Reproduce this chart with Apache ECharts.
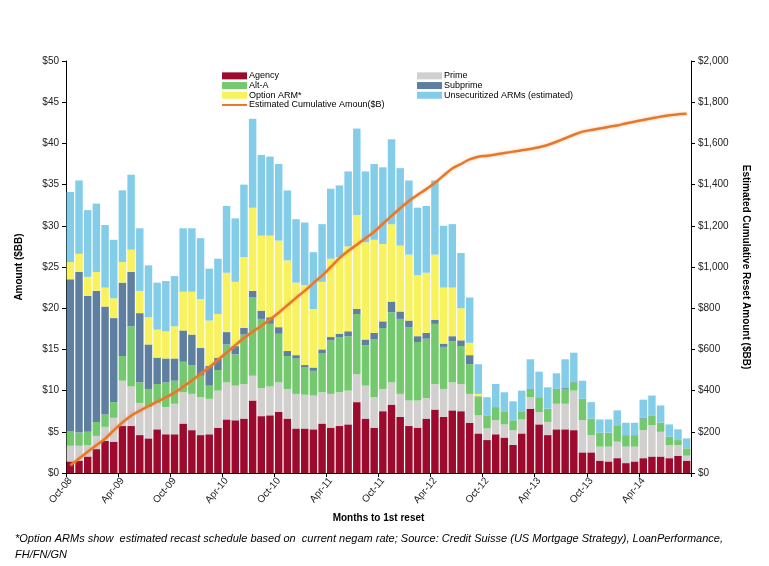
<!DOCTYPE html>
<html>
<head>
<meta charset="utf-8">
<script src="https://cdn.jsdelivr.net/npm/echarts@6/dist/echarts.min.js"></script>
<style>
html,body{margin:0;padding:0;background:#fff;}
#chart{width:769px;height:566px;}
</style>
</head>
<body>
<div id="chart"></div>
<script>
var categories = ["Oct-08","Nov-08","Dec-08",
"Jan-09","Feb-09","Mar-09","Apr-09","May-09","Jun-09","Jul-09","Aug-09","Sep-09","Oct-09","Nov-09","Dec-09",
"Jan-10","Feb-10","Mar-10","Apr-10","May-10","Jun-10","Jul-10","Aug-10","Sep-10","Oct-10","Nov-10","Dec-10",
"Jan-11","Feb-11","Mar-11","Apr-11","May-11","Jun-11","Jul-11","Aug-11","Sep-11","Oct-11","Nov-11","Dec-11",
"Jan-12","Feb-12","Mar-12","Apr-12","May-12","Jun-12","Jul-12","Aug-12","Sep-12","Oct-12","Nov-12","Dec-12",
"Jan-13","Feb-13","Mar-13","Apr-13","May-13","Jun-13","Jul-13","Aug-13","Sep-13","Oct-13","Nov-13","Dec-13",
"Jan-14","Feb-14","Mar-14","Apr-14","May-14","Jun-14","Jul-14","Aug-14","Sep-14"];

var agency = [1.4,1.5,2.0,2.9,3.9,3.8,5.7,5.7,4.6,4.2,5.3,4.7,4.7,6.0,5.2,4.6,4.7,5.5,6.5,6.4,6.6,8.8,6.9,7.0,7.4,6.6,5.4,5.4,5.3,6.0,5.5,5.7,5.9,8.6,6.6,5.5,7.5,8.3,6.8,5.7,5.5,6.6,7.7,6.8,7.6,7.5,6.1,4.8,4.0,4.7,4.3,3.4,4.8,7.8,5.9,4.6,5.3,5.3,5.2,2.5,2.5,1.5,1.4,1.8,1.2,1.4,1.8,2.0,2.0,1.8,2.1,1.5];
var prime = [1.9,1.8,1.4,1.6,1.7,2.9,5.5,4.8,3.9,3.8,3.2,3.3,3.7,3.8,4.4,4.6,4.3,4.5,4.5,4.2,4.2,3.0,3.4,3.5,3.6,3.6,4.2,4.1,4.1,3.8,4.1,4.1,4.1,3.4,4.0,3.7,2.7,2.7,2.8,3.1,3.3,2.5,3.1,3.4,3.4,3.3,3.5,2.2,1.4,1.7,1.6,1.8,1.7,1.4,1.5,1.6,3.1,3.1,4.8,3.9,2.1,1.7,1.8,2.0,2.0,1.8,3.4,3.8,3.0,1.6,1.3,0.6];
var altA = [1.8,1.6,1.6,1.7,1.5,1.9,3.0,7.3,2.5,2.2,2.3,3.0,2.8,3.7,3.5,2.6,1.6,2.5,4.6,3.8,6.0,9.5,8.4,7.6,5.9,4.0,4.3,3.3,3.0,4.7,6.5,6.7,6.6,7.3,4.9,7.0,7.4,8.5,9.1,8.9,7.1,7.2,7.3,5.1,5.0,4.6,3.6,2.2,1.6,1.6,1.5,1.2,0.9,1.0,1.8,1.6,1.8,1.8,1.0,2.6,2.0,1.6,1.7,2.0,1.4,1.4,1.4,1.2,1.1,1.0,0.6,0.9];
var subprime = [18.4,19.5,16.5,15.9,13.1,10.2,8.9,6.6,8.4,5.4,3.2,2.9,2.7,3.8,3.7,3.4,2.4,1.5,1.5,1.0,0.8,0.8,1.0,0.8,0.8,0.6,0.4,0.3,0.4,0.5,0.4,0.4,0.6,0.6,0.7,0.8,0.8,1.3,0.9,0.8,0.7,0.7,0.5,0.4,0.6,0.7,1.1,0.1,0,0,0,0,0,0,0,0,0,0.1,0.1,0,0,0.1,0,0,0,0,0.1,0,0,0,0,0];
var optionArm = [2.1,2.2,2.3,2.3,2.3,2.4,2.5,2.7,2.7,3.3,3.4,3.3,3.9,4.7,5.2,5.9,5.5,5.3,7.2,7.8,8.6,10.1,9.1,9.9,10.5,11.0,8.8,9.7,7.1,8.2,9.5,9.3,10.3,11.4,11.8,11.3,9.4,9.4,8.0,8.0,7.4,7.3,7.9,6.8,5.9,3.9,1.5,0.3,0,0,0,0,0,0,0,0,0,0,0,0,0,0,0,0,0,0,0,0,0,0,0,0];
var unsecuritized = [8.5,8.9,8.1,8.3,7.6,7.1,8.7,9.1,7.6,6.3,5.7,6.1,6.1,7.7,7.7,7.4,6.3,6.7,8.1,7.7,8.8,10.8,9.8,9.6,9.3,8.5,7.7,7.6,6.9,7.0,8.5,8.7,9.1,10.5,8.6,9.2,9.3,10.3,9.4,9.0,8.2,8.1,9.0,7.5,7.7,6.7,5.5,3.6,2.2,2.8,2.4,2.3,2.6,3.6,3.1,2.6,1.9,3.5,3.5,2.2,2.0,1.6,1.6,1.8,1.5,1.5,2.2,2.4,2.1,1.5,1.3,1.2];
var cumulative = [37,70,103,135,166,207,245,278,302,324,346,367,390,419,449,480,513,549,584,620,655,686,714,745,778,814,850,884,922,958,1000,1043,1078,1108,1140,1171,1210,1248,1285,1320,1350,1378,1409,1444,1478,1500,1522,1535,1540,1546,1553,1560,1567,1573,1581,1592,1608,1625,1642,1657,1665,1672,1680,1687,1697,1705,1714,1722,1730,1737,1741,1744];

var leftTicks = [0,5,10,15,20,25,30,35,40,45,50];
var rightTicks = [0,200,400,600,800,1000,1200,1400,1600,1800,2000];

var FONT = "'Liberation Sans', Arial, sans-serif";
var chart = echarts.init(document.getElementById('chart'), null, {renderer:'canvas'});

function barSeries(name, data, color){
  return {name:name, type:'bar', stack:'total', data:data, barCategoryGap:'14%',
          itemStyle:{color:color}, emphasis:{disabled:true}};
}

var legendText = {fontFamily:FONT, fontSize:9, color:'#000', lineHeight:9.7, padding:[0,0,0,-3]};

var option = {
  animation:false,
  backgroundColor:'#fff',
  textStyle:{fontFamily:FONT},
  title:{
    text:"*Option ARMs show  estimated recast schedule based on  current negam rate; Source: Credit Suisse (US Mortgage Strategy), LoanPerformance,\nFH/FN/GN",
    left:10, top:526,
    textStyle:{fontFamily:FONT, fontSize:11, fontStyle:'italic', fontWeight:'normal', color:'#000', lineHeight:16}
  },
  legend:[{
    data:[{name:'Agency',icon:'rect'},{name:'Alt-A',icon:'rect'},{name:'Option ARM*',icon:'rect'},
          {name:'Estimated Cumulative Amoun($B)',icon:'path://M0,2.5L25,2.5L25,4.5L0,4.5Z'}],
    orient:'vertical', left:217, top:66, itemGap:0, itemWidth:25, itemHeight:7,
    selectedMode:false,
    textStyle:legendText
  },{
    data:[{name:'Prime',icon:'rect'},{name:'Subprime',icon:'rect'},{name:'Unsecuritized ARMs (estimated)',icon:'rect'}],
    orient:'vertical', left:412, top:66, itemGap:0, itemWidth:25, itemHeight:7,
    selectedMode:false,
    textStyle:legendText
  }],
  grid:{left:66, right:78, top:61, bottom:93, containLabel:false},
  xAxis:{
    type:'category', data:categories, boundaryGap:true,
    name:'Months to 1st reset', nameLocation:'middle', nameGap:40,
    nameTextStyle:{fontFamily:FONT, fontSize:10, fontWeight:'bold', color:'#000'},
    axisLine:{lineStyle:{color:'#000', width:1}},
    axisTick:{show:true, interval:5, length:4, lineStyle:{color:'#000'}},
    axisLabel:{interval:5, rotate:50, fontSize:10, color:'#222', fontFamily:FONT, margin:6}
  },
  yAxis:[{
    type:'value', min:0, max:50, interval:5, position:'left',
    name:'Amount ($BB)', nameLocation:'middle', nameGap:42, nameRotate:90,
    nameTextStyle:{fontFamily:FONT, fontSize:10, fontWeight:'bold', color:'#000'},
    axisLine:{show:true, lineStyle:{color:'#000'}},
    axisTick:{show:true, length:4, lineStyle:{color:'#000'}},
    splitLine:{show:false},
    axisLabel:{fontSize:10, color:'#222', fontFamily:FONT, margin:7,
      formatter:function(v){return leftTicks.indexOf(v)>=0 ? '$'+v : '';}}
  },{
    type:'value', min:0, max:2000, interval:200, position:'right',
    name:'Estimated Cumulative Reset Amount ($BB)', nameLocation:'middle', nameGap:50, nameRotate:-90,
    nameTextStyle:{fontFamily:FONT, fontSize:10, fontWeight:'bold', color:'#000'},
    axisLine:{show:true, lineStyle:{color:'#000'}},
    axisTick:{show:true, length:4, inside:false, lineStyle:{color:'#000'}},
    splitLine:{show:false},
    axisLabel:{fontSize:10, color:'#222', fontFamily:FONT, margin:7,
      formatter:function(v){return rightTicks.indexOf(v)>=0 ? '$'+v.toLocaleString('en-US') : '';}}
  }],
  series:[
    barSeries('Agency', agency, '#9c0b2e'),
    barSeries('Prime', prime, '#d2cfcf'),
    barSeries('Alt-A', altA, '#74c96f'),
    barSeries('Subprime', subprime, '#5e7fa0'),
    barSeries('Option ARM*', optionArm, '#f7f25e'),
    barSeries('Unsecuritized ARMs (estimated)', unsecuritized, '#84cde8'),
    {name:'Estimated Cumulative Amoun($B)', type:'line', yAxisIndex:1, data:cumulative,
     smooth:0.3, symbol:'none', showSymbol:false,
     lineStyle:{color:'#e8772a', width:2.5, shadowColor:'rgba(240,150,80,0.5)', shadowBlur:3},
     itemStyle:{color:'#e8772a'}, emphasis:{disabled:true}, z:5}
  ]
};
chart.setOption(option);
</script>
</body>
</html>
